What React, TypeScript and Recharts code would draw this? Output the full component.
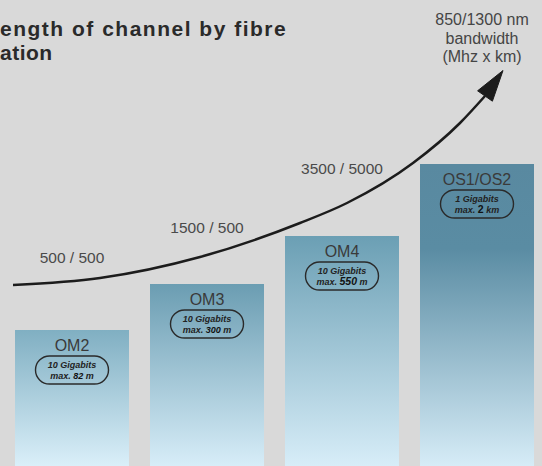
import React from 'react';
import { ComposedChart, Bar, Line, XAxis, YAxis, Customized } from 'recharts';

// ---- data ----
const grades = ['OM2', 'OM3', 'OM4', 'OS1/OS2'];
const barLevels = [136, 182, 230, 302];
const bandwidths = ['500 / 500', '1500 / 500', '3500 / 5000', ''];
const speeds = ['10 Gigabits', '10 Gigabits', '10 Gigabits', '1 Gigabits'];
const reachValues = ['82', '300', '550', '2'];
const reachUnits = ['m', 'm', 'm', 'km'];
const curveX = [13, 100, 200, 300, 347, 413, 460, 485];
const curveY = [181, 188, 209, 243, 263, 303, 343, 370];
const titleLines = ['ength of channel by fibre', 'ation'];
const captionLines = ['850/1300 nm', 'bandwidth', '(Mhz x km)'];

const barData = grades.map((g, i) => ({
  grade: g,
  level: barLevels[i],
  bandwidth: bandwidths[i],
  speed: speeds[i],
  reach: reachValues[i],
  unit: reachUnits[i],
}));
const curveData = curveX.map((x, i) => ({ x, y: curveY[i] }));

// ---- layout / style constants ----
const FONT = '"Liberation Sans", Arial, Helvetica, sans-serif';
const bandwidthLift = [67, 51, 62, 0];
const gradients = [
  [['0', '#80afc2'], ['1', '#daeff9']],
  [['0', '#6b9db2'], ['1', '#d7edf8']],
  [['0', '#6b9fb4'], ['1', '#d7edf8']],
  [['0', '#5989a0'], ['0.28', '#5a8ca3'], ['1', '#d6ecf7']],
];

const BarShape = (props: any) => {
  const { x, y, width, height, index, payload } = props;
  const cx = x + width / 2;
  const emph = index >= 2;
  return (
    <g>
      <rect x={x} y={y} width={width} height={height} fill={`url(#barGrad${index})`} />
      {payload.bandwidth ? (
        <text x={cx} y={y - bandwidthLift[index]} textAnchor="middle" fontFamily={FONT} fontSize={15.5} fill="#4a4a4a">
          {payload.bandwidth}
        </text>
      ) : null}
      <text x={cx} y={y + 21} textAnchor="middle" fontFamily={FONT} fontSize={16} fill="#3a3a3a">
        {payload.grade}
      </text>
      <rect x={cx - 36.5} y={y + 26} width={73} height={28} rx={14} ry={14} fill="none" stroke="#2a2a2a" strokeWidth={1.4} />
      <text x={cx} y={y + 38} textAnchor="middle" fontFamily={FONT} fontSize={9} fontWeight="bold" fontStyle="italic" fill="#222">
        {payload.speed}
      </text>
      <text x={cx} y={y + 49} textAnchor="middle" fontFamily={FONT} fontSize={9} fontWeight="bold" fontStyle="italic" fill="#222">
        {'max. '}
        <tspan fontSize={emph ? 10.5 : 9} fontStyle={index === 3 ? 'normal' : 'italic'} fill="#111">{payload.reach}</tspan>
        {' ' + payload.unit}
      </text>
    </g>
  );
};

const ArrowDot = (props: any) => {
  const { cx, cy, index } = props;
  if (index !== curveData.length - 1 || cx == null) return <g key={`d${index}`} />;
  const pts = [
    [cx + 18, cy - 25.5],
    [cx + 7.4, cy + 5.2],
    [cx - 7.4, cy - 5.2],
  ]
    .map((p) => p.join(','))
    .join(' ');
  return <polygon key={`d${index}`} points={pts} fill="#1c1c1c" stroke="#1c1c1c" strokeWidth={1} strokeLinejoin="round" />;
};

const Texts = () => (
  <g>
    <text x={0} y={36} fontFamily={FONT} fontSize={21} fontWeight="bold" letterSpacing={1.5} fill="#2a2a2a">
      {titleLines[0]}
    </text>
    <text x={0} y={60} fontFamily={FONT} fontSize={21} fontWeight="bold" letterSpacing={0.5} fill="#2a2a2a">
      {titleLines[1]}
    </text>
    {captionLines.map((t, i) => (
      <text key={t} x={482} y={25 + i * 18.7} textAnchor="middle" fontFamily={FONT} fontSize={16} fill="#454545">
        {t}
      </text>
    ))}
  </g>
);

export default function App() {
  return (
    <div style={{ position: 'absolute', left: 0, top: 0, width: 542, height: 466, background: '#d9d9d9', overflow: 'hidden' }}>
      <ComposedChart width={542} height={466} data={barData} margin={{ top: 0, right: -2, bottom: 0, left: 4 }}>
        <defs>
          {gradients.map((stops, i) => (
            <linearGradient key={i} id={`barGrad${i}`} x1="0" y1="0" x2="0" y2="1">
              {stops.map(([o, c]) => (
                <stop key={o} offset={o} stopColor={c} />
              ))}
            </linearGradient>
          ))}
        </defs>
        <XAxis dataKey="grade" type="category" hide />
        <XAxis xAxisId="curve" dataKey="x" type="number" domain={[4, 544]} allowDataOverflow hide />
        <YAxis domain={[0, 466]} allowDataOverflow hide />
        <Bar dataKey="level" barSize={114} shape={BarShape} isAnimationActive={false} />
        <Line
          xAxisId="curve"
          data={curveData}
          dataKey="y"
          type="monotone"
          stroke="#1c1c1c"
          strokeWidth={2.5}
          dot={ArrowDot}
          activeDot={false}
          isAnimationActive={false}
        />
        <Customized component={Texts} />
      </ComposedChart>
    </div>
  );
}
